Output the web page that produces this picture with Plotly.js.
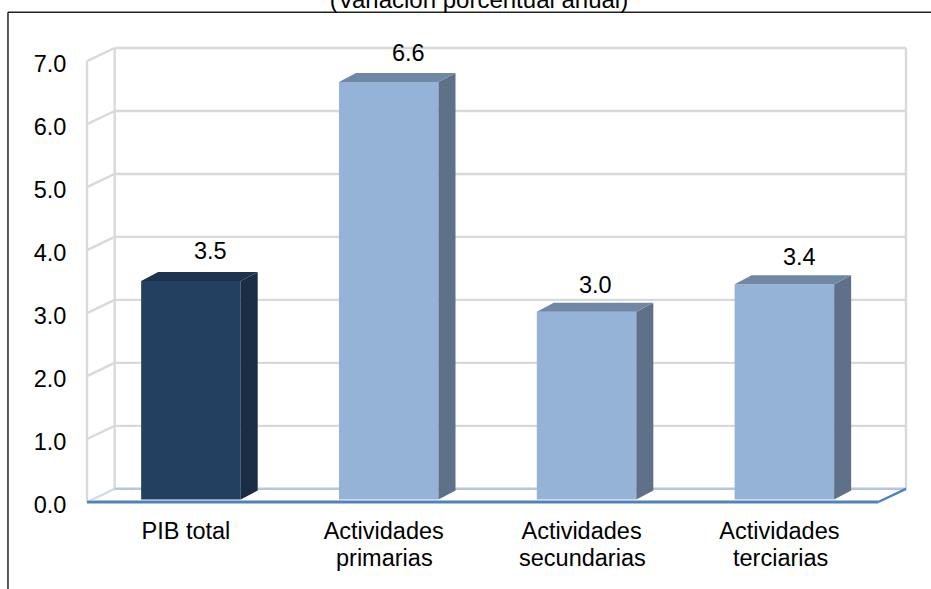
<!DOCTYPE html>
<html><head><meta charset="utf-8">
<script src="https://cdn.plot.ly/plotly-3.0.1.min.js"></script>
<style>html,body{margin:0;padding:0;background:#fff}#c{width:931px;height:589px}</style>
</head><body><div id="c"></div>
<script>
// ---- data ----
const categories = ['PIB total', 'Actividades', 'Actividades', 'Actividades'];
const categoriesLine2 = ['', 'primarias', 'secundarias', 'terciarias'];
const values = [3.47, 6.63, 2.98, 3.42];
const yTicks = [0, 1, 2, 3, 4, 5, 6, 7];
const titleText = '(Variación porcentual anual)';
const barColors = ['#244061', '#95b3d7', '#95b3d7', '#95b3d7'];
const sideColors = ['#1a2d45', '#5f7189', '#5f7189', '#5f7189'];
const topColors = ['#1d3350', '#7087a6', '#7087a6', '#7087a6'];
const labelShiftX = [25, 24.5, 13.5, 20];
const labelShiftY = [30, 29, 27, 27];

// ---- geometry (pixels -> axis units) ----
const L = 87, R = 905.7, T = 48, B = 502.5, W = 931, H = 589, PAD = 4;
const slot = 197.75, unit = 63.04;
const wallDx = 27.7 / slot, wallDy = 13.2 / unit;
const barDx = 17 / slot, barDy = 9 / unit;
const barW = 99.5 / slot, barBase = 2.5 / unit;
const barShift = 5 / slot;
const xMin = -0.5, xMax = 3.5 + wallDx, yMax = 7 + wallDy;
const xFront = xMax - wallDx;

const plotL = L - PAD, plotR = R + PAD, plotT = T - PAD, plotB = B + PAD;
const px = v => (v - plotL) / (plotR - plotL);
const py = v => (plotB - v) / (plotB - plotT);

const traces = [];
traces.push({type: 'bar', x: categories.map((_, i) => i), y: values, base: barBase,
  width: barW, offset: barShift - barW / 2, marker: {color: barColors, line: {width: 0}}, hoverinfo: 'skip'});
values.forEach((v, i) => {
  const x0 = i + barShift - barW / 2, x1 = x0 + barW, yb = barBase, yt = barBase + v;
  traces.push({type: 'scatter', mode: 'lines', fill: 'toself', fillcolor: sideColors[i], line: {width: 0},
    x: [x1, x1 + barDx, x1 + barDx, x1, x1], y: [yb, yb + barDy, yt + barDy, yt, yb], hoverinfo: 'skip'});
  traces.push({type: 'scatter', mode: 'lines', fill: 'toself', fillcolor: topColors[i], line: {width: 0},
    x: [x0, x0 + barDx, x1 + barDx, x1, x0], y: [yt, yt + barDy, yt + barDy, yt, yt], hoverinfo: 'skip'});
});

const line = (x0, y0, x1, y1, color, width, layer) => ({type: 'line', xref: 'x', yref: 'y', x0, y0, x1, y1,
  layer: layer || 'below', line: {color, width}});
const gray = '#d9d9d9';
const shapes = [];
yTicks.forEach(t => {
  if (t > 0) shapes.push(line(xMin + wallDx, t + wallDy, xMax, t + wallDy, gray, 2.4));
  if (t > 0) shapes.push(line(xMin, t, xMin + wallDx, t + wallDy, gray, 2.4));
});
shapes.push(line(xMin, 0, xMin, 7, gray, 2.4));
shapes.push(line(xMin + wallDx, wallDy, xMin + wallDx, yMax, gray, 2.4));
shapes.push(line(xMax, wallDy, xMax, yMax, gray, 2.4));
shapes.push(line(xMin, 0, xMin + wallDx, wallDy, '#d4dce8', 2.4));
shapes.push(line(xMin + wallDx, wallDy, xMax, wallDy, '#b4c7de', 2.4));
shapes.push(line(xMin, 0, xFront, 0, '#c6d6ea', 4, 'above'));
shapes.push(line(xMin, 0, xFront, 0, '#4f81bd', 2.4, 'above'));
shapes.push(line(xFront, 0, xMax, wallDy, '#4f81bd', 2.4, 'above'));
// outer frame
const frame = {color: '#222222', width: 1.5};
shapes.push({type: 'line', xref: 'paper', yref: 'paper', x0: px(8), x1: px(8), y0: py(12.3), y1: py(H + 5), line: frame});
shapes.push({type: 'line', xref: 'paper', yref: 'paper', x0: px(8), x1: px(W + 5), y0: py(12.3), y1: py(12.3), line: frame});

const font = {family: '"Liberation Sans", Arial, sans-serif', size: 23.5, color: '#000'};
const annotations = values.map((v, i) => ({x: i, y: barBase + v, xref: 'x', yref: 'y', text: v.toFixed(1),
  showarrow: false, xanchor: 'center', yanchor: 'middle', xshift: labelShiftX[i], yshift: labelShiftY[i], font}));
categoriesLine2.forEach((t, i) => {
  if (t) annotations.push({x: i, y: 0, xref: 'x', yref: 'y', text: t, showarrow: false, xanchor: 'center',
    yanchor: 'middle', xshift: 1, yshift: -55.5, font});
});

const layout = {
  width: W, height: H, showlegend: false, paper_bgcolor: '#fff', plot_bgcolor: 'rgba(0,0,0,0)',
  margin: {l: plotL, r: W - plotR, t: plotT, b: H - plotB, pad: 0},
  title: {text: titleText, x: 479 / W, xanchor: 'center', y: 1, yref: 'container', yanchor: 'middle',
    font: {family: font.family, size: 24, color: '#000'}},
  xaxis: {range: [xMin - PAD / slot, xMax + PAD / slot], tickmode: 'array', tickvals: categories.map((_, i) => i), ticktext: categories,
    showgrid: false, zeroline: false, showline: false, ticks: 'outside', ticklen: 4, tickcolor: 'rgba(0,0,0,0)',
    tickfont: font, fixedrange: true, automargin: false},
  yaxis: {range: [-PAD / unit, yMax + PAD / unit], tickmode: 'array', tickvals: yTicks, ticktext: yTicks.map(t => t.toFixed(1)),
    showgrid: false, zeroline: false, showline: false, ticks: 'outside', ticklen: 11, tickcolor: 'rgba(0,0,0,0)',
    ticklabelshift: 3, tickfont: font, fixedrange: true, automargin: false},
  shapes, annotations
};
Plotly.newPlot('c', traces, layout, {displayModeBar: false, staticPlot: true});
</script></body></html>
